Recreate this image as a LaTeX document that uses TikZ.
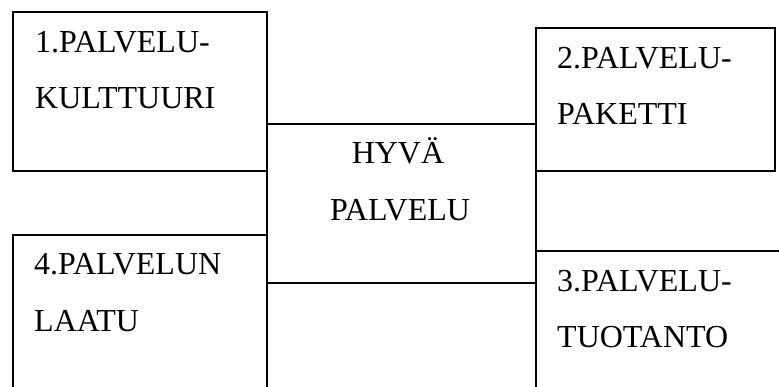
\documentclass[tikz,border=0pt]{standalone}
\usepackage{fontspec}
\setmainfont{Liberation Serif}
\begin{document}
\begin{tikzpicture}[x=1pt, y=-1pt,
  box/.style={draw=black, line width=1.6pt, rectangle, inner sep=0pt, fill=none},
  lbl/.style={anchor=base west, inner sep=0pt, font=\fontsize{32}{38}\selectfont},
  clbl/.style={anchor=base, inner sep=0pt, font=\fontsize{32}{38}\selectfont}]
  \useasboundingbox (0,0) rectangle (779,387);
  \clip (0,0) rectangle (779,387);
  \fill[white] (0,0) rectangle (779,387);

  % central box and the four surrounding boxes
  \node[box, minimum width=269pt, minimum height=159pt] (core) at (401.5,203.5) {};
  \node[box, minimum width=254pt, minimum height=159pt] (kulttuuri) at (140,91.5) {};
  \node[box, minimum width=239pt, minimum height=143pt] (paketti) at (655.5,99.5) {};
  \node[box, minimum width=254pt, minimum height=149pt] (tuotanto) at (663,325.5) {};
  \node[box, minimum width=254pt, minimum height=165pt] (laatu) at (140,317.5) {};

  % labels
  \node[lbl] (k1) at (35,53) {1.PALVELU-};
  \node[lbl] (k2) at (35,109) {KULTTUURI};
  \node[lbl] (p1) at (557,69) {2.PALVELU-};
  \node[lbl] (p2) at (557,125) {PAKETTI};
  \node[lbl] (t1) at (557,291) {3.PALVELU-};
  \node[lbl] (t2) at (557,347) {TUOTANTO};
  \node[lbl] (l1) at (34,275) {4.PALVELUN};
  \node[lbl] (l2) at (34,331) {LAATU};
  \node[clbl] (c1) at (398,164) {HYVÄ};
  \node[clbl] (c2) at (400,221) {PALVELU};
\end{tikzpicture}
\end{document}
